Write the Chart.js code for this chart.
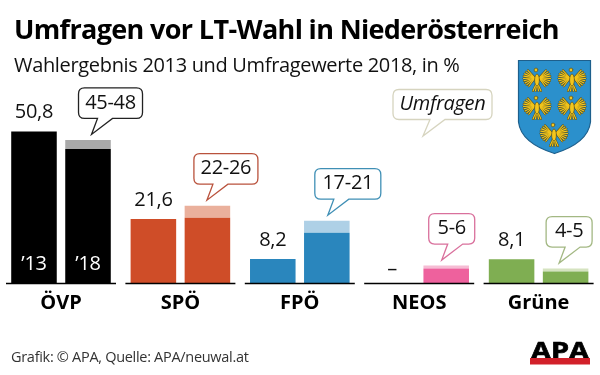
<!DOCTYPE html>
<html>
<head>
<meta charset="utf-8">
<style>
  html, body { margin: 0; padding: 0; background: #fff; }
  #wrap { width: 600px; height: 375px; position: relative; }
</style>
<script src="https://cdn.jsdelivr.net/npm/chart.js@4"></script>
</head>
<body>
<div id="wrap"><canvas id="chart" width="600" height="375"></canvas></div>
<script>
const parties = ['ÖVP', 'SPÖ', 'FPÖ', 'NEOS', 'Grüne'];
const result2013 = [50.8, 21.6, 8.2, null, 8.1];
const result2013Labels = ['50,8', '21,6', '8,2', '–', '8,1'];
const surveyLow = [45, 22, 17, 5, 4];
const surveyHigh = [48, 26, 21, 6, 5];
const surveyLabels = ['45-48', '22-26', '17-21', '5-6', '4-5'];
const yearLabels = ['’13', '’18'];

const partyColors = ['#000000', '#cf4d28', '#2a86bd', '#ee619d', '#7fae52'];
const rangeColors = ['#a9a9a9', '#eab09c', '#aed0e6', '#f6bcd4', '#d5e3c0'];
const bubbleColors = ['#222222', '#b9523c', '#3f8fb5', '#d9709c', '#a3b883'];
const tipOffsets = [3.5, -0.5, 1, -4.5, -6.5];
const bubbleWidths = [64, 64, 66, 46, 46];

const FONT = '"Open Sans", sans-serif';

function roundBubble(ctx, left, top, width, height, tipX, tipY, baseA, baseB, color) {
  const r = 6;
  const bottom = top + height;
  const right = left + width;
  ctx.beginPath();
  ctx.moveTo(left + r, top);
  ctx.lineTo(right - r, top);
  ctx.quadraticCurveTo(right, top, right, top + r);
  ctx.lineTo(right, bottom - r);
  ctx.quadraticCurveTo(right, bottom, right - r, bottom);
  ctx.lineTo(baseB, bottom);
  ctx.lineTo(tipX, tipY);
  ctx.lineTo(baseA, bottom);
  ctx.lineTo(left + r, bottom);
  ctx.quadraticCurveTo(left, bottom, left, bottom - r);
  ctx.lineTo(left, top + r);
  ctx.quadraticCurveTo(left, top, left + r, top);
  ctx.closePath();
  ctx.fillStyle = '#fff';
  ctx.fill();
  ctx.strokeStyle = color;
  ctx.lineWidth = 1.3;
  ctx.stroke();
}

function drawEagle(ctx, x, y) {
  ctx.save();
  ctx.translate(x, y);
  ctx.lineCap = 'round';
  // wing feathers
  [['#4f4d24', 2.1], ['#f4c61c', 1.1]].forEach(([color, width]) => {
    ctx.strokeStyle = color;
    ctx.lineWidth = width;
    [-1, 1].forEach(side => {
      for (let k = 0; k < 9; k++) {
        const a = -0.95 + k * 0.25;
        ctx.beginPath();
        ctx.moveTo(side * 2, -1);
        ctx.lineTo(side * (3 + 10.5 * Math.cos(a)), -1 + 9.5 * Math.sin(a));
        ctx.stroke();
      }
    });
    // tail and claws
    [-4, -1.5, 1.5, 4].forEach(dx => {
      ctx.beginPath();
      ctx.moveTo(0, 3);
      ctx.lineTo(dx, 12);
      ctx.stroke();
    });
  });
  // body and head
  ctx.fillStyle = '#f4c61c';
  ctx.strokeStyle = '#4f4d24';
  ctx.lineWidth = 0.7;
  ctx.beginPath();
  ctx.ellipse(0, 1, 2.4, 6, 0, 0, Math.PI * 2);
  ctx.fill();
  ctx.stroke();
  ctx.beginPath();
  ctx.arc(-1, -9, 1.9, 0, Math.PI * 2);
  ctx.fill();
  ctx.stroke();
  ctx.restore();
}

function drawShield(ctx) {
  ctx.beginPath();
  ctx.moveTo(518.5, 60.5);
  ctx.lineTo(590.5, 60.5);
  ctx.lineTo(590.5, 122);
  ctx.quadraticCurveTo(588, 143, 554.5, 153.5);
  ctx.quadraticCurveTo(521, 143, 518.5, 122);
  ctx.closePath();
  ctx.fillStyle = '#2b90cc';
  ctx.fill();
  ctx.strokeStyle = '#1d5f8c';
  ctx.lineWidth = 1.2;
  ctx.stroke();
  [[537, 79], [572, 79], [537, 107], [572, 107], [554, 134]].forEach(p => drawEagle(ctx, p[0], p[1]));
}

function drawLogo(ctx) {
  ctx.save();
  ctx.translate(560, 358.5);
  ctx.scale(1.2, 1);
  ctx.fillStyle = '#000';
  ctx.strokeStyle = '#000';
  ctx.lineWidth = 0.7;
  ctx.font = 'bold 24px ' + FONT;
  ctx.textAlign = 'center';
  ctx.textBaseline = 'alphabetic';
  ctx.fillText('APA', 0, 0);
  ctx.strokeText('APA', 0, 0);
  ctx.restore();
  ctx.fillStyle = '#d2202a';
  ctx.fillRect(530, 358, 60, 6.5);
}

const annotationPlugin = {
  id: 'annotations',
  afterDraw(chart) {
    const ctx = chart.ctx;
    const y = chart.scales.y;
    const x = chart.scales.x;
    const metaOld = chart.getDatasetMeta(0);
    const metaNew = chart.getDatasetMeta(1);

    ctx.save();
    // separate baseline under every party
    ctx.strokeStyle = '#000';
    ctx.lineWidth = 1.5;
    parties.forEach((p, i) => {
      const cx = x.getPixelForValue(i);
      ctx.beginPath();
      ctx.moveTo(cx - 55, y.getPixelForValue(0));
      ctx.lineTo(cx + 55, y.getPixelForValue(0));
      ctx.stroke();
    });

    // 2013 value labels
    ctx.fillStyle = '#111';
    ctx.font = '20px ' + FONT;
    ctx.letterSpacing = '-0.3px';
    ctx.textAlign = 'center';
    ctx.textBaseline = 'middle';
    parties.forEach((p, i) => {
      const barX = metaOld.data[i].x;
      const top = y.getPixelForValue(result2013[i] === null ? 0 : result2013[i]);
      ctx.fillText(result2013Labels[i], barX, top - (result2013[i] === null ? 14 : 19));
    });

    // year labels inside the first group
    ctx.fillStyle = '#fff';
    ctx.fillText(yearLabels[0], metaOld.data[0].x, 264);
    ctx.fillText(yearLabels[1], metaNew.data[0].x, 264);

    // survey bubbles
    parties.forEach((p, i) => {
      const tipX = metaNew.data[i].x + tipOffsets[i];
      const tipY = y.getPixelForValue(surveyHigh[i]) - 5.5;
      const left = tipX - 13;
      const top = tipY - 46.5;
      roundBubble(ctx, left, top, bubbleWidths[i], 30.5, tipX, tipY, tipX + 6, tipX + 21, bubbleColors[i]);
      ctx.fillStyle = '#111';
      ctx.font = '20px ' + FONT;
      ctx.fillText(surveyLabels[i], left + bubbleWidths[i] / 2, top + 15);
    });

    // legend bubble
    roundBubble(ctx, 393, 89.5, 99, 30, 423, 136, 430, 445, '#d6d4bf');
    ctx.fillStyle = '#111';
    ctx.font = 'italic 20px ' + FONT;
    ctx.fillText('Umfragen', 442.5, 104);

    // headline block
    ctx.textAlign = 'left';
    ctx.textBaseline = 'alphabetic';
    ctx.fillStyle = '#000';
    ctx.font = 'bold 27px ' + FONT;
    ctx.letterSpacing = '-0.65px';
    ctx.fillText('Umfragen vor LT-Wahl in Niederösterreich', 14, 38.5);
    ctx.fillStyle = '#111';
    ctx.font = '20px ' + FONT;
    ctx.letterSpacing = '-0.33px';
    ctx.fillText('Wahlergebnis 2013 und Umfragewerte 2018, in %', 14, 71.5);
    ctx.fillStyle = '#333';
    ctx.font = '14.5px ' + FONT;
    ctx.letterSpacing = '-0.3px';
    ctx.fillText('Grafik: © APA, Quelle: APA/neuwal.at', 11, 362);
    ctx.letterSpacing = '0px';

    drawShield(ctx);
    drawLogo(ctx);
    ctx.restore();
  }
};

new Chart(document.getElementById('chart').getContext('2d'), {
  type: 'bar',
  data: {
    labels: parties,
    datasets: [
      { data: result2013, backgroundColor: partyColors, stack: 'y2013' },
      { data: surveyLow, backgroundColor: partyColors, stack: 'y2018' },
      { data: surveyHigh.map((v, i) => v - surveyLow[i]), backgroundColor: rangeColors, stack: 'y2018' }
    ]
  },
  options: {
    responsive: false,
    animation: false,
    categoryPercentage: 0.905,
    barPercentage: 0.843,
    layout: { padding: { top: 104, left: 1.3, right: 1.7, bottom: 0 } },
    plugins: {
      legend: { display: false },
      tooltip: { enabled: false },
      title: { display: false }
    },
    scales: {
      x: {
        stacked: true,
        grid: { display: false },
        border: { display: false },
        ticks: {
          color: '#000',
          padding: 0,
          maxRotation: 0,
          font: { family: '"Open Sans", sans-serif', size: 20, weight: 'bold' }
        },
        afterFit(scale) { scale.height = 91.5; }
      },
      y: {
        display: false,
        stacked: true,
        min: 0,
        max: 60
      }
    }
  },
  plugins: [annotationPlugin]
});
</script>
</body>
</html>
